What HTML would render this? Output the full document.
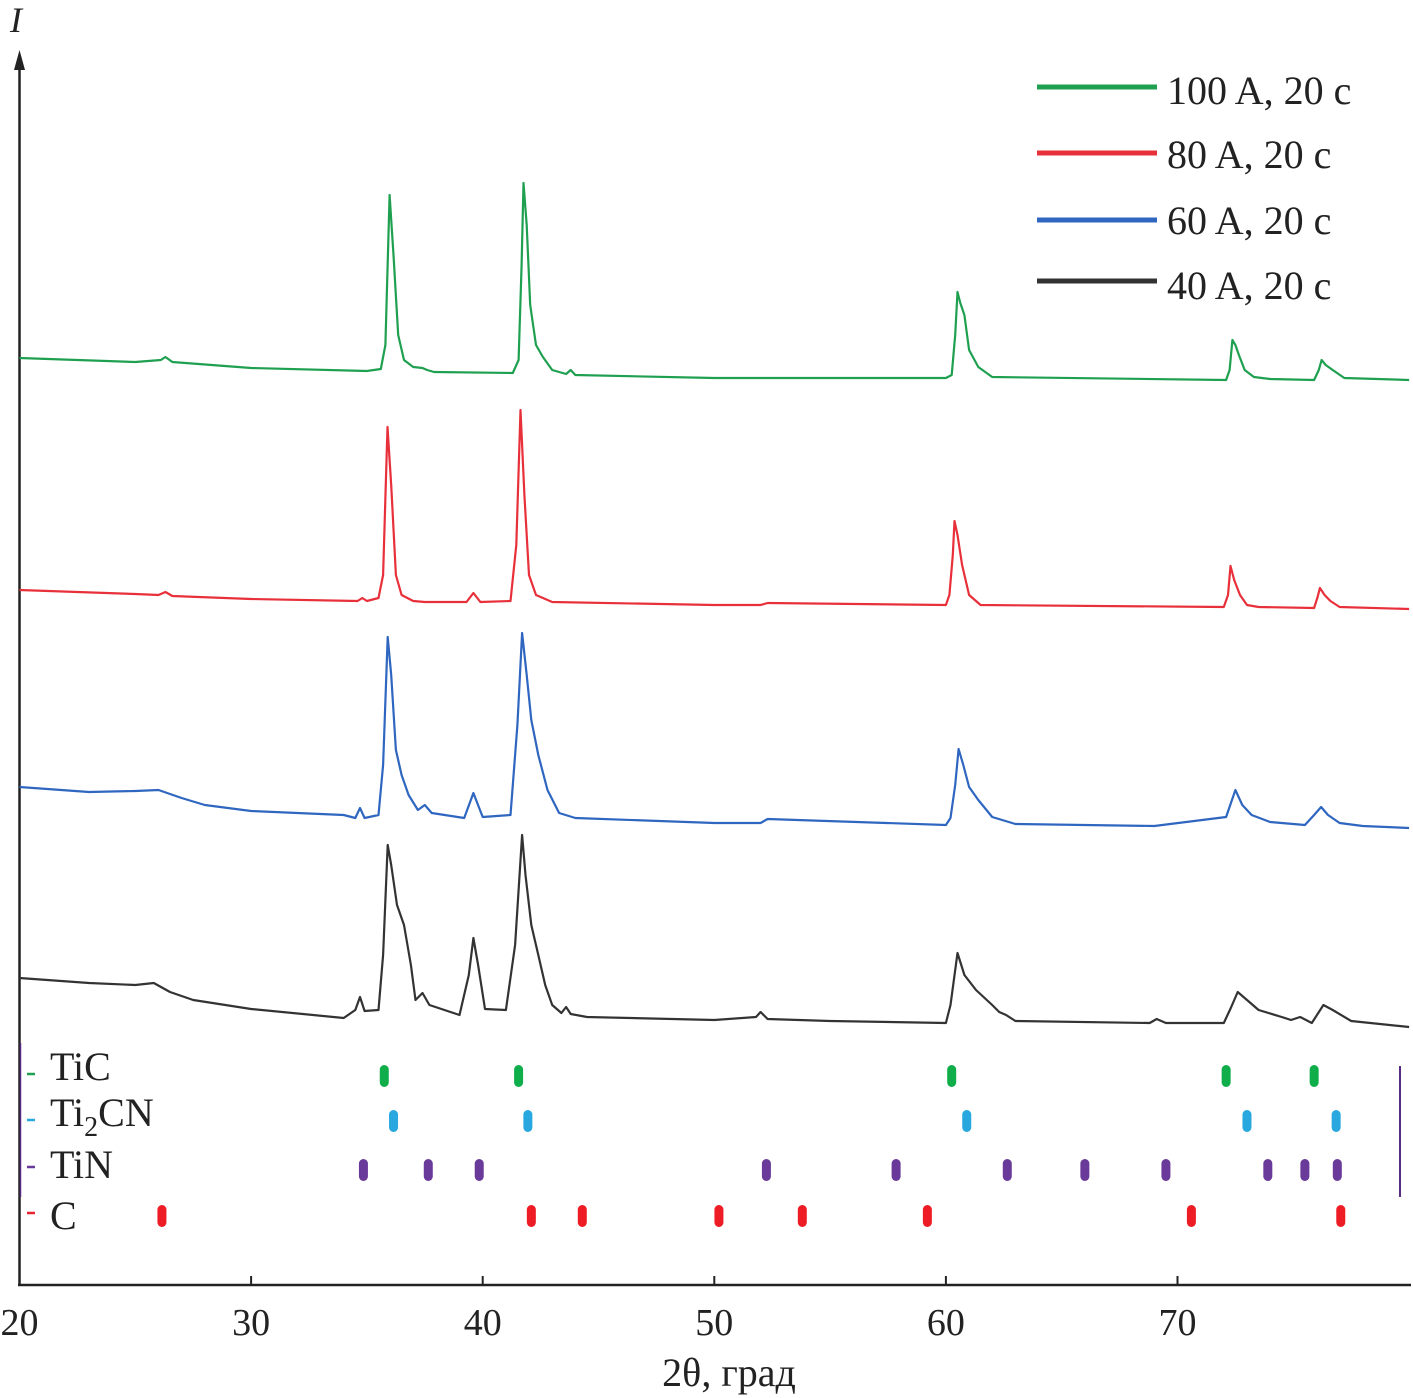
<!DOCTYPE html>
<html><head><meta charset="utf-8">
<style>
html,body{margin:0;padding:0;background:#fff;}
svg{display:block;font-family:"Liberation Serif",serif;}
</style></head>
<body>
<svg id="chart" width="1413" height="1398" viewBox="0 0 1413 1398" xmlns="http://www.w3.org/2000/svg">
<g id="axes">
<line x1="19.5" y1="62" x2="19.5" y2="1286" stroke="#222" stroke-width="2.5"/>
<polygon points="19.5,50 14,70 25,70" fill="#222"/>
<line x1="18" y1="1285" x2="1411" y2="1285" stroke="#222" stroke-width="2.5"/>
<text x="10" y="32" font-size="36" font-style="italic" fill="#222">I</text>
<text x="729" y="1386" font-size="40" text-anchor="middle" fill="#222">2θ, град</text>
<line x1="1400" y1="1066" x2="1400" y2="1197" stroke="#5a2d82" stroke-width="2"/>
<line x1="20.5" y1="1043" x2="20.5" y2="1197" stroke="#5a2d82" stroke-width="1.5"/>
</g>
<g id="ticks"></g>
<g id="traces"></g>
<g id="markers"></g>
<g id="legend">
<line x1="1037" y1="87" x2="1157" y2="87" stroke="#1fa050" stroke-width="5"/>
<text x="1167" y="104" font-size="40" fill="#222">100 A, 20 c</text>
<line x1="1037" y1="153" x2="1157" y2="153" stroke="#e8303a" stroke-width="5"/>
<text x="1167" y="168" font-size="40" fill="#222">80 A, 20 c</text>
<line x1="1037" y1="220" x2="1157" y2="220" stroke="#2f66c0" stroke-width="5"/>
<text x="1167" y="234" font-size="40" fill="#222">60 A, 20 c</text>
<line x1="1037" y1="281" x2="1157" y2="281" stroke="#333" stroke-width="5"/>
<text x="1167" y="299" font-size="40" fill="#222">40 A, 20 c</text>
</g>
<g id="phase-labels">
<line x1="27" y1="1074" x2="35" y2="1074" stroke="#1fa050" stroke-width="2.5"/>
<text x="50" y="1080" font-size="40" fill="#222">TiC</text>
<line x1="27" y1="1120" x2="35" y2="1120" stroke="#29a8e0" stroke-width="2.5"/>
<text x="50" y="1126" font-size="40" fill="#222">Ti<tspan font-size="28" dy="10">2</tspan><tspan dy="-10">CN</tspan></text>
<line x1="27" y1="1167" x2="35" y2="1167" stroke="#6a3a9a" stroke-width="2.5"/>
<text x="50" y="1178" font-size="40" fill="#222">TiN</text>
<line x1="27" y1="1213" x2="35" y2="1213" stroke="#e82430" stroke-width="2.5"/>
<text x="50" y="1229" font-size="40" fill="#222">C</text>
</g>
</svg>
<script>
// ---- data ----
const xTicks = [20, 30, 40, 50, 60, 70];
const xTickLabels = ["20", "30", "40", "50", "60", "70"];
const theta100 = [20,25,26.1,26.3,26.6,30,35,35.6,35.8,35.98,36.15,36.35,36.6,37,37.4,37.6,37.9,41.3,41.55,41.68,41.76,41.9,42.05,42.3,42.6,43,43.6,43.8,44,50,60,60.25,60.4,60.5,60.62,60.8,61,61.4,62,72.1,72.25,72.37,72.5,72.65,72.9,73.3,74,75.9,76.1,76.22,76.4,76.7,77.2,80];
const int100 = [927,923,925,928,923,917,914,916,940,1090,1030,950,925,918,917,915,913,912,925,1020,1102,1060,980,940,928,915,911,915,910,907,907,910,950,993,982,970,935,918,908,905,915,945,940,930,915,908,906,905,915,925,920,915,907,905];
const theta80 = [20,25,26,26.3,26.6,30,34.6,34.8,35,35.5,35.7,35.89,36.05,36.25,36.5,37,37.5,39.3,39.6,39.9,41.2,41.45,41.63,41.8,42,42.3,43,50,52,52.3,60,60.15,60.3,60.37,60.5,60.7,61,61.5,72,72.18,72.29,72.45,72.7,73,73.5,75.9,76.05,76.15,76.35,76.6,77,80];
const int80 = [695,691,690,693,689,686,684,687,684,687,710,858,800,710,690,684,683,683,692,683,684,740,875,790,710,690,683,680,680,682,680,690,730,764,750,720,690,680,678,690,719,705,690,680,678,677,688,697,690,684,678,676];
const theta60 = [20,23,25,26,27,28,30,34,34.5,34.7,34.9,35.5,35.7,35.9,36.05,36.25,36.5,36.8,37.2,37.5,37.8,39.2,39.6,40,41.2,41.5,41.7,41.9,42.1,42.4,42.8,43.3,44,50,52,52.3,60,60.2,60.4,60.55,60.75,61,61.4,62,63,69,72.1,72.5,72.8,73.2,74,75.5,75.9,76.2,76.5,77,78,80];
const int60 = [498,493,494,495,487,480,474,470,467,477,467,470,520,648,610,535,510,490,475,480,472,467,492,468,470,560,652,610,565,530,495,472,467,462,462,466,460,467,500,536,520,498,485,468,461,459,468,495,480,470,463,460,470,478,470,462,459,457];
const theta40 = [20,23,25,25.8,26.5,27.5,30,34,34.5,34.7,34.9,35.5,35.7,35.9,36.05,36.3,36.6,36.9,37.1,37.4,37.7,39,39.4,39.6,39.8,40.1,41,41.4,41.7,41.85,42.1,42.4,42.7,43,43.4,43.6,43.8,44.5,50,51.8,52,52.3,55,60,60.2,60.5,60.8,61.3,62,62.3,62.6,63,68.8,69.1,69.5,72,72.3,72.6,73,73.5,74.5,74.9,75.3,75.8,76.3,76.7,77.5,80];
const int40 = [307,302,300,302,293,285,276,267,275,288,274,275,330,440,420,380,360,320,285,292,280,270,310,347,320,276,275,340,450,410,360,330,300,280,272,278,271,268,265,268,273,266,264,262,280,332,310,295,280,273,270,264,262,266,262,262,277,293,285,275,268,265,268,262,280,275,264,258];
const posTiC = [35.75, 41.55, 60.25, 72.1, 75.9];
const posTi2CN = [36.15, 41.95, 60.9, 73.0, 76.85];
const posTiN = [34.85, 37.65, 39.85, 52.25, 57.85, 62.65, 66.0, 69.5, 73.9, 75.5, 76.9];
const posC = [26.15, 42.1, 44.3, 50.2, 53.8, 59.2, 70.6, 77.05];

// ---- scales ----
const X0 = 20, PX0 = 19.5, PXPER = 23.16;
function xScale(t){ return PX0 + (t - X0) * PXPER; }
function yScale(v){ return 1285 - v; }
const NS = "http://www.w3.org/2000/svg";
function mk(tag){ return document.createElementNS(NS, tag); }

const tg = document.getElementById('ticks');
xTicks.forEach((t,i)=>{
  const l = mk('line');
  
  
  l.setAttribute('x1', xScale(t)); l.setAttribute('x2', xScale(t));
  l.setAttribute('y1', 1285); l.setAttribute('y2', 1276);
  l.setAttribute('stroke', '#222'); l.setAttribute('stroke-width', '2');
  tg.appendChild(l);
  const tx = mk('text');
  
  
  tx.setAttribute('x', xScale(t)); tx.setAttribute('y', 1335);
  tx.setAttribute('font-size', '38'); tx.setAttribute('text-anchor', 'middle'); tx.setAttribute('fill', '#222');
  tx.textContent = xTickLabels[i];
  tg.appendChild(tx);
});

const trg = document.getElementById('traces');
function trace(th, iv, color, name){
  const p = mk('polyline');
  
  
  p.setAttribute('points', th.map((t,i)=>xScale(t).toFixed(1)+','+yScale(iv[i]).toFixed(1)).join(' '));
  p.setAttribute('fill', 'none'); p.setAttribute('stroke', color);
  p.setAttribute('stroke-width', '2.2'); p.setAttribute('stroke-linejoin', 'round');
  trg.appendChild(p);
}
trace(theta100, int100, '#1fa050', 'trace-100a');
trace(theta80, int80, '#e8303a', 'trace-80a');
trace(theta60, int60, '#2f66c0', 'trace-60a');
trace(theta40, int40, '#333333', 'trace-40a');

const mg = document.getElementById('markers');
function marks(pos, yc, color, name){
  pos.forEach(t=>{
    const r = mk('rect');
    
    
    r.setAttribute('x', xScale(t)-4.5); r.setAttribute('y', yc-11);
    r.setAttribute('width', 9); r.setAttribute('height', 22);
    r.setAttribute('rx', 4.5); r.setAttribute('fill', color);
    mg.appendChild(r);
  });
}
marks(posTiC, 1076, '#0fae4a', 'tic-reference-mark');
marks(posTi2CN, 1121, '#29a8e0', 'ti2cn-reference-mark');
marks(posTiN, 1170, '#6a3a9a', 'tin-reference-mark');
marks(posC, 1216, '#ee1c25', 'c-reference-mark');
</script>
</body></html>
